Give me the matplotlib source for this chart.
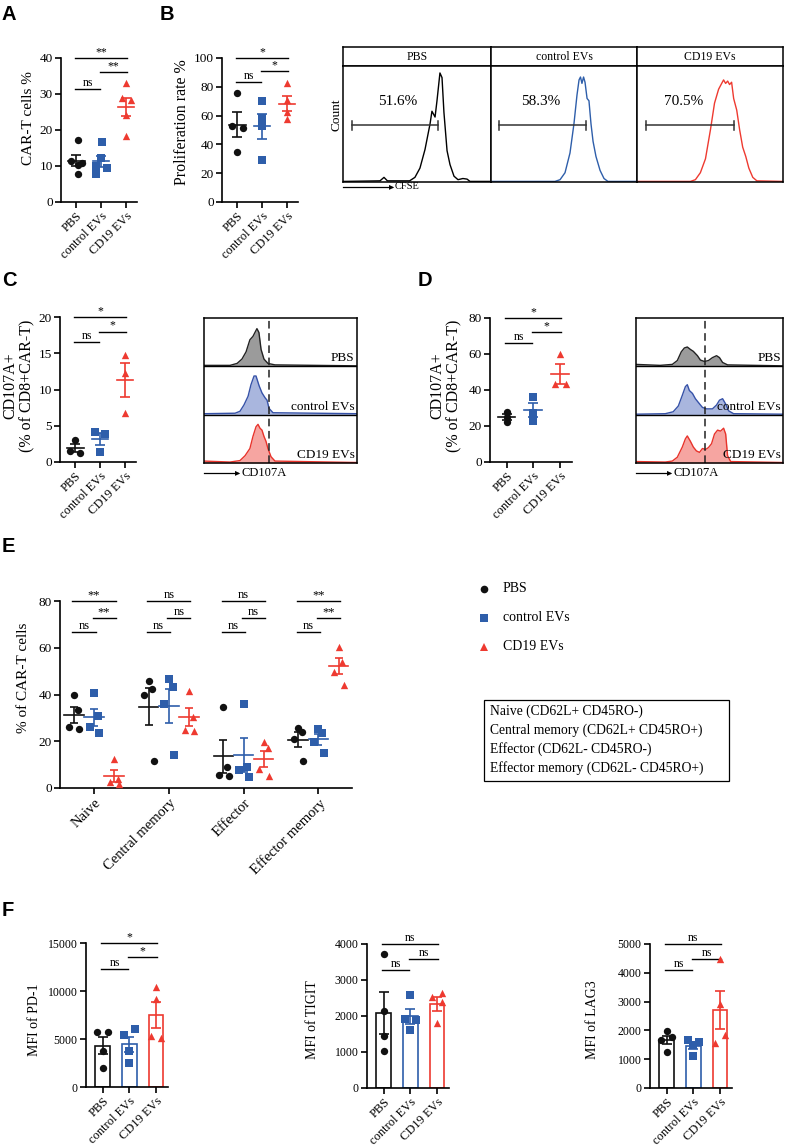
import numpy as np
import matplotlib
matplotlib.use("Agg")
import matplotlib.pyplot as plt
from matplotlib.patches import Rectangle

W, H = 785, 1147
plt.rcParams['font.family'] = ['Liberation Serif', 'DejaVu Serif']

BLACK = '#111111'
BLUE = '#2E5EAA'
RED = '#EE3A30'
groups = ['PBS', 'control EVs', 'CD19 EVs']
colors = [BLACK, BLUE, RED]
markers = ['o', 's', '^']

# ---- data ----
car_t_pct = [[17.2, 11.4, 10.8, 10.2, 7.9],
             [16.7, 12.3, 10.0, 9.5, 7.8],
             [33.0, 28.8, 28.2, 24.2, 18.3]]
prolif_rate = [[76.0, 52.5, 51.5, 35.0],
               [70.0, 58.5, 52.8, 29.3],
               [82.7, 70.7, 62.7, 57.4]]
cd107a_c = [[3.1, 1.5, 1.3], [4.2, 3.9, 1.4], [14.8, 12.3, 6.8]]
cd107a_d = [[28.0, 25.0, 22.0], [36.0, 27.0, 23.0], [60.0, 43.5, 43.5]]

subsets = ['Naive', 'Central memory', 'Effector', 'Effector memory']
naive = [[39.9, 33.4, 26.3, 25.3], [40.6, 30.7, 26.0, 23.6], [12.3, 4.0, 2.5, 1.5]]
central_memory = [[45.6, 42.4, 40.0, 11.4], [46.7, 43.1, 36.0, 14.3], [41.7, 30.3, 25.0, 24.5]]
effector = [[34.6, 8.9, 5.5, 5.2], [36.0, 9.1, 7.5, 4.6], [19.6, 17.1, 8.0, 5.0]]
effector_memory = [[25.7, 24.1, 21.0, 11.7], [25.3, 23.4, 19.6, 14.9], [60.4, 54.0, 49.7, 44.0]]
subset_sig = [['**', '**', 'ns'], ['ns', 'ns', 'ns'], ['ns', 'ns', 'ns'], ['**', '**', 'ns']]

mfi_pd1 = [[5700, 5700, 3800, 2000], [6040, 5400, 3800, 2500], [10400, 9200, 5300, 5100]]
mfi_tigit = [[3720, 2130, 1440, 1030], [2580, 1920, 1880, 1600], [2650, 2520, 2380, 1800]]
mfi_lag3 = [[1980, 1780, 1650, 1250], [1650, 1600, 1500, 1100], [4480, 2900, 1850, 1570]]

# CFSE histograms (x: % of panel width, y: % of panel height)
cfse_pbs_x = [0, 25, 27.7, 30, 45, 48.6, 52, 55.4, 58.8, 60.1, 62.2, 63.5, 65.5, 66.9, 68.2, 70.3, 72.3, 75, 77.7, 81, 83.8, 85.8, 100]
cfse_pbs_y = [0.5, 1, 4, 1, 1, 4, 12, 28, 50, 61, 56, 70, 94, 90, 60, 27, 15, 5, 2, 3, 2.5, 0.5, 0.5]
cfse_ctrl_x = [0, 43.8, 47.3, 50.7, 54.1, 56.8, 58.9, 60.3, 61.3, 62.3, 63.4, 64.4, 65.8, 67.1, 68.5, 69.9, 71.9, 74.7, 77.4, 80.1, 100]
cfse_ctrl_y = [0.5, 0.5, 2, 8, 25, 50, 75, 88, 90.5, 85, 90.5, 86, 72, 70, 50, 35, 22, 10, 3, 0.5, 0.5]
cfse_cd19_x = [0, 36.6, 40, 43.4, 46.9, 50.3, 53.1, 55.9, 58, 59.3, 60.7, 62.1, 63.4, 64.8, 66.2, 68.3, 70.3, 72.4, 74.5, 76.6, 79.3, 82.1, 100]
cfse_cd19_y = [0.5, 0.5, 2, 8, 20, 45, 68, 80, 85, 88, 85, 87, 84, 86, 72, 62, 45, 30, 22, 12, 4, 1, 0.5]
cfse_pct = ['51.6%', '58.3%', '70.5%']

# CD107A histograms (x: % of width, y: fraction of lane height)
c_pbs_x = [0, 17, 21.6, 24.8, 27.5, 30, 32, 33.3, 34.6, 35.9, 37.3, 39.2, 41.8, 46.4, 100]
c_pbs_y = [0.02, 0.02, 0.06, 0.15, 0.3, 0.55, 0.62, 0.7, 0.78, 0.7, 0.35, 0.15, 0.06, 0.03, 0.01]
c_ctrl_x = [0, 20.3, 23.5, 26.1, 28.8, 30.7, 32.7, 34, 36, 37.9, 39.9, 41.2, 42.5, 45.1, 100]
c_ctrl_y = [0.02, 0.03, 0.07, 0.2, 0.38, 0.62, 0.8, 0.8, 0.6, 0.45, 0.35, 0.3, 0.13, 0.04, 0.02]
c_cd19_x = [0, 17, 23.5, 26.8, 30, 32, 34, 35.3, 36.6, 37.9, 39.2, 40.5, 41.8, 43.8, 46.4, 100]
c_cd19_y = [0.04, 0.02, 0.05, 0.15, 0.3, 0.55, 0.75, 0.8, 0.72, 0.68, 0.55, 0.45, 0.3, 0.13, 0.04, 0.01]

d_pbs_x = [0, 16.4, 24.7, 28.1, 30.8, 32.9, 34.9, 37, 39, 41.8, 43.8, 46.6, 49.3, 52, 54.8, 56.8, 58.9, 62.3, 100]
d_pbs_y = [0.04, 0.02, 0.04, 0.12, 0.3, 0.38, 0.4, 0.35, 0.31, 0.22, 0.13, 0.1, 0.12, 0.18, 0.22, 0.18, 0.08, 0.03, 0.01]
d_ctrl_x = [0, 19.9, 25.3, 28.8, 31.5, 33.6, 34.9, 36.3, 38.4, 40.4, 42.5, 45.2, 47.9, 52, 54.8, 56.8, 58.9, 61, 63, 66.4, 100]
d_ctrl_y = [0.01, 0.02, 0.06, 0.18, 0.4, 0.58, 0.62, 0.5, 0.44, 0.33, 0.25, 0.15, 0.12, 0.12, 0.2, 0.3, 0.33, 0.22, 0.08, 0.02, 0.01]
d_cd19_x = [0, 19.9, 24.7, 28.1, 31.5, 33.6, 34.9, 37, 39, 41.1, 43.2, 45.2, 47.3, 49.3, 51.4, 53.4, 55.5, 57.5, 59.6, 61, 62.3, 64.4, 100]
d_cd19_y = [0.03, 0.02, 0.04, 0.12, 0.33, 0.5, 0.56, 0.45, 0.33, 0.25, 0.22, 0.3, 0.28, 0.32, 0.4, 0.6, 0.68, 0.66, 0.72, 0.6, 0.15, 0.03, 0.01]

fig = plt.figure(figsize=(W / 100, H / 100), dpi=100)


def px_axes(x0, y0, x1, y1):
    return fig.add_axes([x0 / W, 1 - y1 / H, (x1 - x0) / W, (y1 - y0) / H])


def ftext(px, py, s, **kw):
    return fig.text(px / W, 1 - py / H, s, **kw)


def sem(v):
    v = np.asarray(v, float)
    return v.std(ddof=1) / np.sqrt(len(v))


def style(ax, xlim, ylim, yticks, fs=9.5):
    ax.set_xlim(*xlim)
    ax.set_ylim(*ylim)
    ax.set_yticks(yticks)
    for s in ['top', 'right']:
        ax.spines[s].set_visible(False)
    for s in ['left', 'bottom']:
        ax.spines[s].set_linewidth(1.2)
    ax.tick_params(width=1.2, length=4, labelsize=fs, pad=2)


def sig(ax, x0, x1, y, txt, fs=8.5):
    ax.plot([x0, x1], [y, y], color='k', lw=1, clip_on=False)
    ax.text((x0 + x1) / 2, y, txt, ha='center', va='bottom', fontsize=fs, clip_on=False)


def dots(ax, x, vals, color, marker, jit, half=0.33, cap=3.5, bar=False, s=28):
    m = np.mean(vals)
    e = sem(vals)
    if bar:
        ax.bar(x, m, width=0.56, facecolor='white', edgecolor=color, linewidth=1.2, zorder=1)
    else:
        ax.plot([x - half, x + half], [m, m], color=color, lw=1.2, zorder=2)
    ax.scatter(x + np.array(jit[:len(vals)]), vals, s=s, c=color, marker=marker,
               linewidths=0, zorder=3, clip_on=False)
    ax.errorbar(x, m, yerr=e, fmt='none', ecolor=color, elinewidth=1.2, capsize=cap,
                capthick=1.2, zorder=2)


def group_panel(ax, data, jit, ylim, yticks, sigs, bar=False, fs=9, tfs=9.5):
    for i, vals in enumerate(data):
        dots(ax, i, vals, colors[i], markers[i], jit[i], bar=bar)
    style(ax, (-0.62, 2.45), ylim, yticks, fs=tfs)
    ax.set_xticks(range(3))
    ax.set_xticklabels(groups, rotation=45, ha='right', rotation_mode='anchor', fontsize=fs)
    (y_top, t_top), (y_mid, t_mid), (y_low, t_low) = sigs
    sig(ax, -0.05, 2.05, y_top, t_top)
    sig(ax, 0.95, 2.05, y_mid, t_mid)
    sig(ax, -0.05, 0.95, y_low, t_low)


# ---- panel letters ----
for lbl, px, py in [('A', 2, 15), ('B', 160, 14), ('C', 2, 280), ('D', 418, 280), ('E', 2, 547), ('F', 2, 910)]:
    ftext(px, py, lbl, fontsize=14.5, fontweight='bold', family='Liberation Sans', va='center')

# ---- A ----
axA = px_axes(61, 58, 137, 202)
group_panel(axA, car_t_pct,
            [[0.05, -0.2, 0.22, 0.05, 0.05], [0.05, 0.0, -0.2, 0.22, -0.2], [0.0, -0.15, 0.2, 0.0, 0.0]],
            (0, 40), [0, 10, 20, 30, 40], [(40, '**'), (36, '**'), (31.4, 'ns')])
ftext(29, 118, 'CAR-T cells %', rotation=90, ha='center', va='center', fontsize=11)

# ---- B dot plot ----
axB = px_axes(222, 58, 298, 202)
group_panel(axB, prolif_rate,
            [[0.0, -0.22, 0.22, 0.0], [0.0, 0.0, 0.0, 0.0], [0.0, 0.0, 0.0, 0.0]],
            (0, 100), [0, 20, 40, 60, 80, 100], [(100, '*'), (90.8, '*'), (83.4, 'ns')])
ftext(182, 122, 'Proliferation rate %', rotation=90, ha='center', va='center', fontsize=11.5)

# ---- B CFSE histograms ----
edges = [343, 491, 637, 783]
cfse_x = [cfse_pbs_x, cfse_ctrl_x, cfse_cd19_x]
cfse_y = [cfse_pbs_y, cfse_ctrl_y, cfse_cd19_y]
gate = [(6.1, 64.2), (5.5, 65.1), (6.2, 66.2)]
pct_x = [37, 34, 32]
for i in range(3):
    hx = px_axes(edges[i], 47, edges[i + 1], 66)
    hx.set_xticks([]); hx.set_yticks([])
    hx.text(0.5, 0.5, groups[i], ha='center', va='center', fontsize=8.5, transform=hx.transAxes)
    ax = px_axes(edges[i], 66, edges[i + 1], 182)
    ax.plot(cfse_x[i], cfse_y[i], color=colors[i] if i else 'black', lw=1.0)
    ax.set_xlim(0, 100); ax.set_ylim(0, 100)
    ax.set_xticks([]); ax.set_yticks([])
    g0, g1 = gate[i]
    ax.plot([g0, g1], [49, 49], color='#333333', lw=1.1)
    ax.plot([g0, g0], [45, 53], color='#333333', lw=1.1)
    ax.plot([g1, g1], [45, 53], color='#333333', lw=1.1)
    ax.text(pct_x[i], 69, cfse_pct[i], ha='center', va='center', fontsize=11)
    for a in (hx, ax):
        for s in a.spines.values():
            s.set_linewidth(1.1)
ftext(336, 115, 'Count', rotation=90, ha='center', va='center', fontsize=9.5)
fig.add_artist(plt.Line2D([343 / W, 392 / W], [1 - 187 / H] * 2, color='k', lw=0.9))
ftext(389, 187, '\u25B8', ha='left', va='center', fontsize=7.5)
ftext(395, 187, 'CFSE', ha='left', va='center', fontsize=7.5)


def flow_stack(box, xs, ys, fills, lines, labels, dash_x):
    ax = px_axes(*box)
    for k in range(3):
        base = 2 - k
        yy = base + np.array(ys[k])
        ax.fill_between(xs[k], base, yy, color=fills[k], lw=0)
        ax.plot(xs[k], yy, color=lines[k], lw=1.0)
        ax.text(98.5, base + 0.04, labels[k], ha='right', va='bottom', fontsize=9.5)
    ax.axhline(1, color='k', lw=1.0)
    ax.axhline(2, color='k', lw=1.0)
    ax.axvline(dash_x, color='#222222', lw=1.1, ls=(0, (5, 3)))
    ax.set_xlim(0, 100); ax.set_ylim(0, 3)
    ax.set_xticks([]); ax.set_yticks([])
    for s in ax.spines.values():
        s.set_linewidth(1.1)
    x0 = box[0]
    fig.add_artist(plt.Line2D([x0 / W, (x0 + 34) / W], [1 - 473 / H] * 2, color='k', lw=0.9))
    ftext(x0 + 31, 473, '\u25B8', ha='left', va='center', fontsize=7.5)
    ftext(x0 + 37, 473, 'CD107A', ha='left', va='center', fontsize=9)
    return ax


hist_fill = ['#9B9B9B', '#A9B6DE', '#F6A5A1']
hist_line = ['#222222', '#3652A8', '#E8332B']

# ---- C ----
axC = px_axes(60, 317, 136, 462)
group_panel(axC, cd107a_c, [[0.0, -0.22, 0.2], [-0.2, 0.2, 0.0], [0.0, 0.0, 0.0]],
            (0, 20), [0, 5, 10, 15, 20], [(20, '*'), (18, '*'), (16.5, 'ns')])
ftext(19, 386, 'CD107A+\n(% of CD8+CAR-T)', rotation=90, ha='center', va='center',
      fontsize=11.5, linespacing=1.1)
flow_stack((204, 318, 357, 463), [c_pbs_x, c_ctrl_x, c_cd19_x], [c_pbs_y, c_ctrl_y, c_cd19_y],
           hist_fill, hist_line, groups, 42.5)

# ---- D ----
axD = px_axes(490, 318, 572, 462)
group_panel(axD, cd107a_d, [[0.0, 0.0, 0.0], [0.0, 0.0, 0.0], [0.0, -0.2, 0.22]],
            (0, 80), [0, 20, 40, 60, 80], [(80, '*'), (72.2, '*'), (66, 'ns')])
ftext(446, 386, 'CD107A+\n(% of CD8+CAR-T)', rotation=90, ha='center', va='center',
      fontsize=11.5, linespacing=1.1)
flow_stack((636, 318, 783, 463), [d_pbs_x, d_ctrl_x, d_cd19_x], [d_pbs_y, d_ctrl_y, d_cd19_y],
           hist_fill, hist_line, groups, 46.6)

# ---- E ----
axE = px_axes(60, 601, 352, 788)
subset_data = [naive, central_memory, effector, effector_memory]
off = 0.27
jitE = [0.0, 0.05, -0.06, 0.07]
for g, data in enumerate(subset_data):
    for i, vals in enumerate(data):
        dots(axE, g + (i - 1) * off, vals, colors[i], markers[i], jitE, half=0.13, cap=3)
    s_top, s_mid, s_low = subset_sig[g]
    sig(axE, g - off - 0.02, g + off + 0.02, 80, s_top, fs=9)
    sig(axE, g - 0.02, g + off + 0.02, 72.7, s_mid, fs=9)
    sig(axE, g - off - 0.02, g + 0.02, 66.7, s_low, fs=9)
style(axE, (-0.455, 3.45), (0, 80), [0, 20, 40, 60, 80])
axE.set_xticks(range(4))
axE.set_xticklabels(subsets, rotation=45, ha='right', rotation_mode='anchor', fontsize=10.5)
ftext(24, 678, '% of CAR-T cells', rotation=90, ha='center', va='center', fontsize=11)

# legend
for i, yy in enumerate([589, 618, 647]):
    fig.add_artist(plt.Line2D([484 / W], [1 - yy / H], marker=markers[i], color=colors[i],
                              markersize=5.5, lw=0, markeredgewidth=0))
    ftext(503, yy, groups[i], ha='left', va='center', fontsize=10)
fig.add_artist(Rectangle((484 / W, 1 - 781 / H), (729 - 484) / W, 81 / H, fill=False,
                         edgecolor='k', lw=0.9, transform=fig.transFigure))
box_lines = ['Naive (CD62L+ CD45RO-)', 'Central memory (CD62L+ CD45RO+)',
             'Effector (CD62L- CD45RO-)', 'Effector memory (CD62L- CD45RO+)']
for k, line in enumerate(box_lines):
    ftext(490, 711 + k * 19, line, ha='left', va='center', fontsize=9.8)

# ---- F ----
axF1 = px_axes(86, 943, 168, 1087)
group_panel(axF1, mfi_pd1, [[-0.2, 0.2, 0.0, 0.0], [0.2, -0.2, 0.0, 0.0], [0.0, 0.0, -0.2, 0.2]],
            (0, 15000), [0, 5000, 10000, 15000],
            [(15000, '*'), (13500, '*'), (12300, 'ns')], bar=True, tfs=8.5)
ftext(34, 1020, 'MFI of PD-1', rotation=90, ha='center', va='center', fontsize=10)

axF2 = px_axes(367, 944, 449, 1088)
group_panel(axF2, mfi_tigit, [[0.0, 0.0, 0.0, 0.0], [0.0, -0.2, 0.2, 0.0], [0.2, -0.2, 0.2, 0.0]],
            (0, 4000), [0, 1000, 2000, 3000, 4000],
            [(4000, 'ns'), (3580, 'ns'), (3270, 'ns')], bar=True, tfs=8.5)
ftext(313, 1020, 'MFI of TIGIT', rotation=90, ha='center', va='center', fontsize=10)

axF3 = px_axes(650, 944, 732, 1088)
group_panel(axF3, mfi_lag3, [[0.0, 0.2, -0.2, 0.0], [-0.2, 0.2, 0.0, 0.0], [0.0, 0.0, 0.2, -0.2]],
            (0, 5000), [0, 1000, 2000, 3000, 4000, 5000],
            [(5000, 'ns'), (4480, 'ns'), (4100, 'ns')], bar=True, tfs=8.5)
ftext(592, 1020, 'MFI of LAG3', rotation=90, ha='center', va='center', fontsize=10)

fig.savefig('out.png', dpi=100)
